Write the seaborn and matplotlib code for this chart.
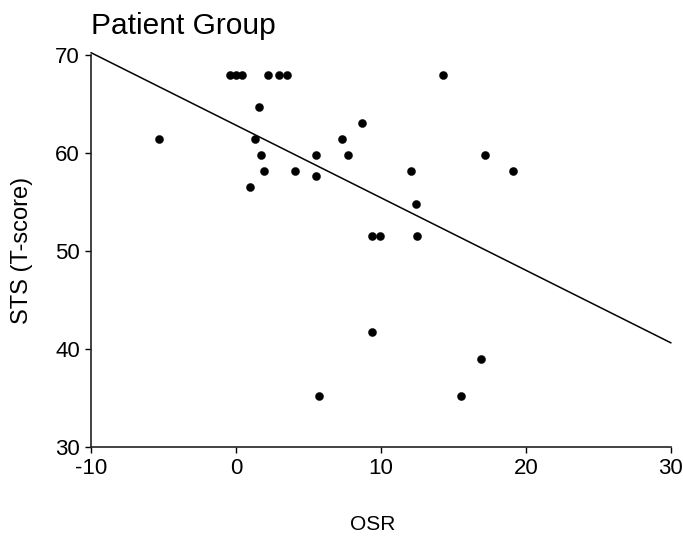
import numpy as np
import pandas as pd
import seaborn as sns
from matplotlib import pyplot as plt

# values
osr = [-0.4, 0.0, 0.4, 2.2, 3.0, 3.5, 14.3, 1.6, -5.3, 1.3, 1.7, 1.9, 4.1, 1.0,
       8.7, 7.3, 5.5, 7.7, 5.5, 12.1, 17.2, 12.4, 19.1, 5.7, 9.4, 9.4, 9.9,
       12.5, 16.9, 15.5]
sts = [68, 68, 68, 68, 68, 68, 68, 64.7, 61.4, 61.4, 59.8, 58.2, 58.2, 56.5,
       63.1, 61.4, 59.8, 59.8, 57.6, 58.2, 59.8, 54.8, 58.2, 35.2, 41.7, 51.5,
       51.5, 51.5, 39.0, 35.2]

# fitted line as drawn in the reference
fit_intercept = 62.83
fit_slope = -0.741

x_ticks = [-10, 0, 10, 20, 30]
y_ticks = [30, 40, 50, 60, 70]

sns.set_style("ticks")
plt.rcParams["font.family"] = ["Liberation Sans", "DejaVu Sans"]
plt.rcParams["axes.unicode_minus"] = False
plt.rcParams["text.color"] = "black"
plt.rcParams["axes.labelcolor"] = "black"

df = pd.DataFrame({"OSR": osr, "STS": sts})

fig = plt.figure(figsize=(6.83, 5.43), dpi=100)
ax = fig.add_axes([0.1332, 0.1774, 0.8492, 0.7213])

sns.scatterplot(data=df, x="OSR", y="STS", ax=ax, color="black",
                s=34, marker="o", edgecolor="black", linewidth=0.3)

line_x = np.array([x_ticks[0], x_ticks[-1]])
line_df = pd.DataFrame({"x": line_x, "y": fit_intercept + fit_slope * line_x})
sns.lineplot(data=line_df, x="x", y="y", ax=ax, color="black", linewidth=1.1)
for ln in ax.lines:
    ln.set_clip_on(False)

ax.set_xlim(x_ticks[0], x_ticks[-1])
ax.set_ylim(y_ticks[0], y_ticks[-1])
ax.set_xticks(x_ticks)
ax.set_yticks(y_ticks)
ax.tick_params(labelsize=16, length=4, width=1, color="black", pad=4,
               labelcolor="black")
sns.despine(ax=ax)
for side in ("left", "bottom"):
    ax.spines[side].set_color("#222222")
    ax.spines[side].set_linewidth(1.2)

ax.set_xlabel("OSR", fontsize=15, color="black")
ax.set_ylabel("STS (T-score)", fontsize=17, color="black")
ax.xaxis.set_label_coords(0.485, -0.175)
ax.yaxis.set_label_coords(-0.10, 0.5)
ax.set_title("Patient Group", loc="left", fontsize=21.5, pad=15, x=0.0,
             color="black")

fig.savefig("out.png", dpi=100)
